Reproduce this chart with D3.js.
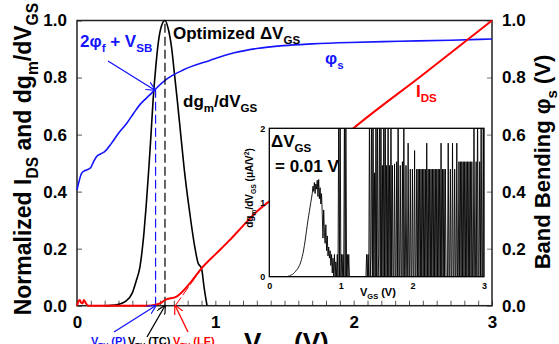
<!DOCTYPE html>
<html>
<head>
<meta charset="utf-8">
<script src="https://cdn.jsdelivr.net/npm/d3@7"></script>
<style>
  html, body { margin: 0; padding: 0; background: #fff; }
  svg { display: block; font-family: 'Liberation Sans', Arial, sans-serif; font-weight: bold; }
</style>
</head>
<body>
<div id="chart"></div>
<script>
// --- data ---
const vgsTicks = [0, 1, 2, 3];
const normTicks = [0, 0.2, 0.4, 0.6, 0.8, 1.0];

// dgm/dVGS (normalized), main plot
const dgmV = [0.2, 0.25, 0.3, 0.35, 0.4, 0.43, 0.455, 0.47, 0.484, 0.5, 0.52, 0.535, 0.55, 0.57, 0.587, 0.61, 0.636,
  0.66, 0.685, 0.705, 0.725, 0.75, 0.775, 0.8, 0.825, 0.85, 0.875, 0.9, 0.92, 0.94];
const dgmVal = [0, 0.001, 0.005, 0.015, 0.045, 0.09, 0.136, 0.19, 0.255, 0.35, 0.487, 0.6, 0.72, 0.84, 0.92, 0.98, 1.0,
  0.97, 0.9, 0.81, 0.72, 0.6, 0.48, 0.38, 0.29, 0.21, 0.15, 0.131, 0.06, 0];

// IDS (normalized)
const idsV = [0, 0.01, 0.02, 0.03, 0.04, 0.05, 0.06, 0.08, 0.3, 0.5, 0.55, 0.6, 0.636, 0.72, 0.817, 0.9, 1.0, 1.1, 1.2,
  1.3, 1.4, 1.6, 1.8, 2.0, 2.5, 3.0];
const idsVal = [0, 0.015, 0.02, 0.01, 0.008, 0.02, 0.012, 0, 0, 0, 0.002, 0.008, 0.02, 0.032, 0.079, 0.131, 0.18, 0.228,
  0.28, 0.33, 0.37, 0.45, 0.54, 0.623, 0.81, 1.0];

// band bending phi_s (V)
const phiV = [0, 0.034, 0.05, 0.07, 0.1, 0.12, 0.142, 0.17, 0.2, 0.25, 0.3, 0.36, 0.41, 0.455, 0.5, 0.528, 0.568, 0.65,
  0.77, 0.96, 1.13, 1.3, 1.49, 1.7, 1.97, 2.33, 2.7, 3.0];
const phiVal = [0.406, 0.465, 0.472, 0.476, 0.485, 0.505, 0.523, 0.532, 0.54, 0.57, 0.605, 0.64, 0.675, 0.705, 0.727,
  0.74, 0.76, 0.795, 0.827, 0.86, 0.886, 0.902, 0.912, 0.918, 0.923, 0.927, 0.931, 0.935];

// threshold markers
const vthP = 0.568, vthTC = 0.636;
const leLineV = [0.71, 0.93];
const leLineVal = [0, 0.15];

// inset: dgm/dVGS (uA/V^2) sampled every 0.01 V from 0 to 3 V (10 samples per row)
const insetStep = 0.01;
const insetDg = [
  0, 0, 0, 0, 0, 0, 0, 0, 0, 0,
  0, 0, 0, 0, 0, 0, 0, 0, 0, 0,
  0, 0, 0, 0, 0, 0, 0.005, 0.008, 0.01, 0.015,
  0.02, 0.025, 0.03, 0.035, 0.045, 0.055, 0.065, 0.075, 0.09, 0.1,
  0.115, 0.13, 0.15, 0.17, 0.2, 0.23, 0.27, 0.31, 0.36, 0.42,
  0.48, 0.55, 0.62, 0.69, 0.76, 0.82, 0.88, 0.94, 1.0, 1.06,
  1.12, 1.22, 1.15, 1.27, 1.12, 1.25, 1.18, 1.3, 1.08, 1.31,
  1.05, 1.2, 0.98, 1.12, 0.85, 0.52, 0.9, 0.6, 0.45, 0.7,
  0.35, 0.55, 0.28, 0.4, 0.25, 0.35, 0.15, 0.3, 0.05, 0.25,
  0, 0.3, 0, 0.2, 0, 0.3, 0, 2.3, 0, 2.3,
  0, 0.3, 0, 0.3, 0, 2.3, 0, 2.3, 0, 0.3,
  0, 0.3, 0, 0, 0, 0, 0, 0, 0, 0,
  0, 0, 0, 0, 0, 0, 0, 0, 0, 0,
  0, 0, 0, 0, 0, 0, 0.3, 0, 0.3, 0,
  2.3, 0, 0.3, 2.3, 0, 2.3, 0, 1.4, 0, 2.3,
  0, 2.3, 0, 0.3, 2.3, 0, 2.3, 0, 1.5, 0,
  2.3, 0, 2.3, 0, 1.5, 0, 2.3, 0, 1.5, 0,
  2.3, 0, 1.5, 0, 0, 1.52, 0, 0, 1.55, 0,
  2.3, 0, 0, 1.5, 0, 0, 1.55, 0, 2.3, 0,
  0, 1.5, 0, 0, 1.8, 0, 0, 1.45, 0, 0,
  1.45, 0, 0, 1.7, 0, 0, 1.45, 0, 1.45, 0,
  1.45, 0, 1.45, 0, 1.45, 0, 1.45, 0, 1.45, 0,
  1.8, 0, 1.45, 0, 1.45, 0, 1.45, 0, 1.45, 0,
  1.45, 0, 1.45, 0, 1.45, 0, 1.45, 0, 1.45, 0,
  1.8, 0, 1.45, 0, 1.45, 0, 1.45, 0, 0, 0,
  1.8, 0, 0, 1.45, 0, 0, 1.8, 0, 0, 1.45,
  0, 0, 1.8, 0, 0, 1.55, 0, 1.55, 0, 1.55,
  0, 1.55, 0, 1.55, 0, 1.55, 0, 1.55, 0, 1.55,
  0, 1.55, 0, 1.55, 0, 0, 2.3, 0, 0, 1.55,
  0, 2.3, 0, 0, 1.55, 0, 2.3, 0, 0, 2.3,
  0
];

const BLUE = '#1414ff', RED = '#ff0000', BLACK = '#000';

const W = 559, H = 344;
const margin = { top: 20.5, right: 67, bottom: 38.3, left: 77 };
const plotW = W - margin.left - margin.right;
const plotH = H - margin.top - margin.bottom;

const svg = d3.select('#chart').append('svg').attr('width', W).attr('height', H);

// open arrowheads
const defs = svg.append('defs');
[['arrB', BLUE], ['arrK', BLACK], ['arrR', RED]].forEach(([id, c]) => {
  defs.append('marker').attr('id', id)
    .attr('viewBox', '0 0 10 10').attr('refX', 9).attr('refY', 5)
    .attr('markerWidth', 9).attr('markerHeight', 9).attr('markerUnits', 'userSpaceOnUse')
    .attr('orient', 'auto')
    .append('path').attr('d', 'M0,0 L10,5 L0,10').attr('fill', 'none').attr('stroke', c).attr('stroke-width', 1.3);
});

// writes text with sub/superscript parts
function rich(text, parts, size) {
  let off = 0;
  parts.forEach(([t, k]) => {
    const target = k === 'sub' ? size * 0.3 : k === 'sup' ? -size * 0.4 : 0;
    const ts = text.append('tspan').attr('dy', target - off).text(t);
    if (k) ts.attr('font-size', size * 0.68);
    off = target;
  });
  return text;
}

const x = d3.scaleLinear().domain([0, 3]).range([margin.left, margin.left + plotW]);
const y = d3.scaleLinear().domain([0, 1]).range([margin.top + plotH, margin.top]);

// --- axes ---
const minor = d3.range(0, 30.5, 1).map(d => d / 10);
const xMinor = svg.append('g').attr('transform', `translate(0,${y(0)})`)
  .call(d3.axisBottom(x).tickValues(minor).tickSize(-5).tickFormat(''));
xMinor.select('.domain').remove();
xMinor.selectAll('line').attr('stroke', '#555');

const xLab = svg.append('g').attr('transform', `translate(0,${y(0)})`)
  .call(d3.axisBottom(x).tickValues(vgsTicks).tickSize(0).tickPadding(10).tickFormat(d3.format('d')));
xLab.select('.domain').remove();
xLab.selectAll('text').attr('font-size', 17).attr('font-weight', 'bold').attr('font-family', null).attr('fill', BLACK);

const yL = svg.append('g').attr('transform', `translate(${x(0)},0)`)
  .call(d3.axisLeft(y).tickValues(normTicks).tickSizeInner(-5).tickSizeOuter(0).tickPadding(10).tickFormat(d3.format('.1f')));
yL.select('.domain').remove();
yL.selectAll('line').attr('stroke', '#555');
yL.selectAll('text').attr('font-size', 17).attr('font-weight', 'bold').attr('font-family', null).attr('fill', BLACK);

const yR = svg.append('g').attr('transform', `translate(${x(3)},0)`)
  .call(d3.axisRight(y).tickValues(normTicks).tickSizeInner(-5).tickSizeOuter(0).tickPadding(10).tickFormat(d3.format('.1f')));
yR.select('.domain').remove();
yR.selectAll('line').attr('stroke', '#777');
yR.selectAll('text').attr('font-size', 17).attr('font-weight', 'bold').attr('font-family', null).attr('fill', BLACK);

// frame
svg.append('rect').attr('x', x(0)).attr('y', y(1)).attr('width', x(3) - x(0)).attr('height', y(0) - y(1))
  .attr('fill', 'none').attr('stroke', '#222').attr('stroke-width', 1.5);

// --- curves ---
const line = d3.line().x(d => x(d[0])).y(d => y(d[1])).curve(d3.curveMonotoneX);

svg.append('path').datum(dgmV.map((v, i) => [v, dgmVal[i]]))
  .attr('d', line).attr('fill', 'none').attr('stroke', BLACK).attr('stroke-width', 1.6);

svg.append('path').datum(phiV.map((v, i) => [v, phiVal[i]]))
  .attr('d', line).attr('fill', 'none').attr('stroke', BLUE).attr('stroke-width', 1.6);

// threshold dashed lines
svg.append('line').attr('x1', x(vthP)).attr('x2', x(vthP)).attr('y1', y(0)).attr('y2', y(0.76))
  .attr('stroke', BLUE).attr('stroke-width', 1.2).attr('stroke-dasharray', '9,4');
svg.append('line').attr('x1', x(vthTC)).attr('x2', x(vthTC)).attr('y1', y(0)).attr('y2', y(1))
  .attr('stroke', BLACK).attr('stroke-width', 1.2).attr('stroke-dasharray', '9,4');

// linear extrapolation line
svg.append('line').attr('x1', x(leLineV[0])).attr('y1', y(leLineVal[0]))
  .attr('x2', x(leLineV[1])).attr('y2', y(leLineVal[1]))
  .attr('stroke', RED).attr('stroke-width', 1).attr('stroke-dasharray', '10,3');

svg.append('path').datum(idsV.map((v, i) => [v, idsVal[i]]))
  .attr('d', line).attr('fill', 'none').attr('stroke', RED).attr('stroke-width', 2);

// --- inset ---
const ix = d3.scaleLinear().domain([0, 3]).range([269.3, 484]);
const iy = d3.scaleLinear().domain([0, 2]).range([276.7, 128.3]);

svg.append('rect').attr('x', ix(0)).attr('y', iy(2)).attr('width', ix(3) - ix(0)).attr('height', iy(0) - iy(2))
  .attr('fill', '#fff');
defs.append('clipPath').attr('id', 'insetClip').append('rect')
  .attr('x', ix(0)).attr('y', iy(2)).attr('width', ix(3) - ix(0)).attr('height', iy(0) - iy(2));

svg.append('path').datum(insetDg.map((v, i) => [i * insetStep, v]))
  .attr('clip-path', 'url(#insetClip)')
  .attr('d', d3.line().x(d => ix(d[0])).y(d => iy(d[1])))
  .attr('fill', 'none').attr('stroke', BLACK).attr('stroke-width', 0.9);

svg.append('rect').attr('x', ix(0)).attr('y', iy(2)).attr('width', ix(3) - ix(0)).attr('height', iy(0) - iy(2))
  .attr('fill', 'none').attr('stroke', BLACK).attr('stroke-width', 1.3);

const ixAx = svg.append('g').attr('transform', `translate(0,${iy(0)})`)
  .call(d3.axisBottom(ix).tickValues(vgsTicks).tickSize(0).tickPadding(6).tickFormat(d3.format('d')));
ixAx.select('.domain').remove();
ixAx.selectAll('text').attr('font-size', 9).attr('font-weight', 'bold').attr('font-family', null);

const iyAx = svg.append('g').attr('transform', `translate(${ix(0)},0)`)
  .call(d3.axisLeft(iy).tickValues([0, 1, 2]).tickSize(0).tickPadding(4).tickFormat(d3.format('d')));
iyAx.select('.domain').remove();
iyAx.selectAll('text').attr('font-size', 9).attr('font-weight', 'bold').attr('font-family', null);

rich(svg.append('text').attr('x', 360).attr('y', 296).attr('font-size', 11),
  [['V'], ['GS', 'sub'], [' (V)']], 11);

rich(svg.append('text').attr('transform', 'translate(253,188) rotate(-90)').attr('text-anchor', 'middle').attr('font-size', 10),
  [['dg'], ['m', 'sub'], ['/dV'], ['GS', 'sub'], [' (μA/V'], ['2', 'sup'], [')']], 10);

rich(svg.append('text').attr('x', 271).attr('y', 147).attr('font-size', 17),
  [['ΔV'], ['GS', 'sub']], 17);
svg.append('text').attr('x', 275).attr('y', 172).attr('font-size', 17).text('= 0.01 V');

// --- axis titles ---
rich(svg.append('text').attr('transform', `translate(31,${(y(0) + y(1)) / 2 - 4}) rotate(-90)`)
  .attr('text-anchor', 'middle').attr('font-size', 23),
  [['Normalized I'], ['DS', 'sub'], [' and dg'], ['m', 'sub'], ['/dV'], ['GS', 'sub']], 23);

rich(svg.append('text').attr('transform', `translate(550,162) rotate(-90)`)
  .attr('text-anchor', 'middle').attr('font-size', 22),
  [['Band Bending φ'], ['s', 'sub'], [' (V)']], 22);

rich(svg.append('text').attr('x', 244).attr('y', 351).attr('font-size', 26),
  [['V'], ['GS', 'sub'], [' (V)']], 26);

// --- annotations ---
rich(svg.append('text').attr('x', 80).attr('y', 47).attr('font-size', 17).attr('fill', BLUE),
  [['2φ'], ['f', 'sub'], [' + V'], ['SB', 'sub']], 17);
svg.append('line').attr('x1', 108).attr('y1', 61).attr('x2', x(vthP) - 1).attr('y2', y(0.76) + 1)
  .attr('stroke', BLUE).attr('stroke-width', 1.3).attr('marker-end', 'url(#arrB)');

rich(svg.append('text').attr('x', 173).attr('y', 39).attr('font-size', 17),
  [['Optimized ΔV'], ['GS', 'sub']], 17);
rich(svg.append('text').attr('x', 183).attr('y', 107).attr('font-size', 17),
  [['dg'], ['m', 'sub'], ['/dV'], ['GS', 'sub']], 17);
rich(svg.append('text').attr('x', 325).attr('y', 64).attr('font-size', 17).attr('fill', BLUE),
  [['φ'], ['s', 'sub']], 17);
rich(svg.append('text').attr('x', 416).attr('y', 97).attr('font-size', 17).attr('fill', RED),
  [['I'], ['DS', 'sub']], 17);

// threshold arrows and labels at the bottom
svg.append('line').attr('x1', 114).attr('y1', 332).attr('x2', x(vthP)).attr('y2', y(0))
  .attr('stroke', BLUE).attr('stroke-width', 1.3).attr('marker-end', 'url(#arrB)');
svg.append('line').attr('x1', 147).attr('y1', 337).attr('x2', x(vthTC)).attr('y2', y(0))
  .attr('stroke', BLACK).attr('stroke-width', 1.3).attr('marker-end', 'url(#arrK)');
svg.append('line').attr('x1', 188).attr('y1', 332).attr('x2', x(leLineV[0])).attr('y2', y(0))
  .attr('stroke', RED).attr('stroke-width', 1.3).attr('marker-end', 'url(#arrR)');

rich(svg.append('text').attr('x', 91).attr('y', 345).attr('font-size', 11).attr('fill', BLUE),
  [['V'], ['TH', 'sub'], [' (P)']], 11);
rich(svg.append('text').attr('x', 128).attr('y', 345).attr('font-size', 11).attr('fill', BLACK),
  [['V'], ['TH', 'sub'], [' (TC)']], 11);
rich(svg.append('text').attr('x', 173).attr('y', 345).attr('font-size', 11).attr('fill', RED),
  [['V'], ['TH', 'sub'], [' (LE)']], 11);
</script>
</body>
</html>
